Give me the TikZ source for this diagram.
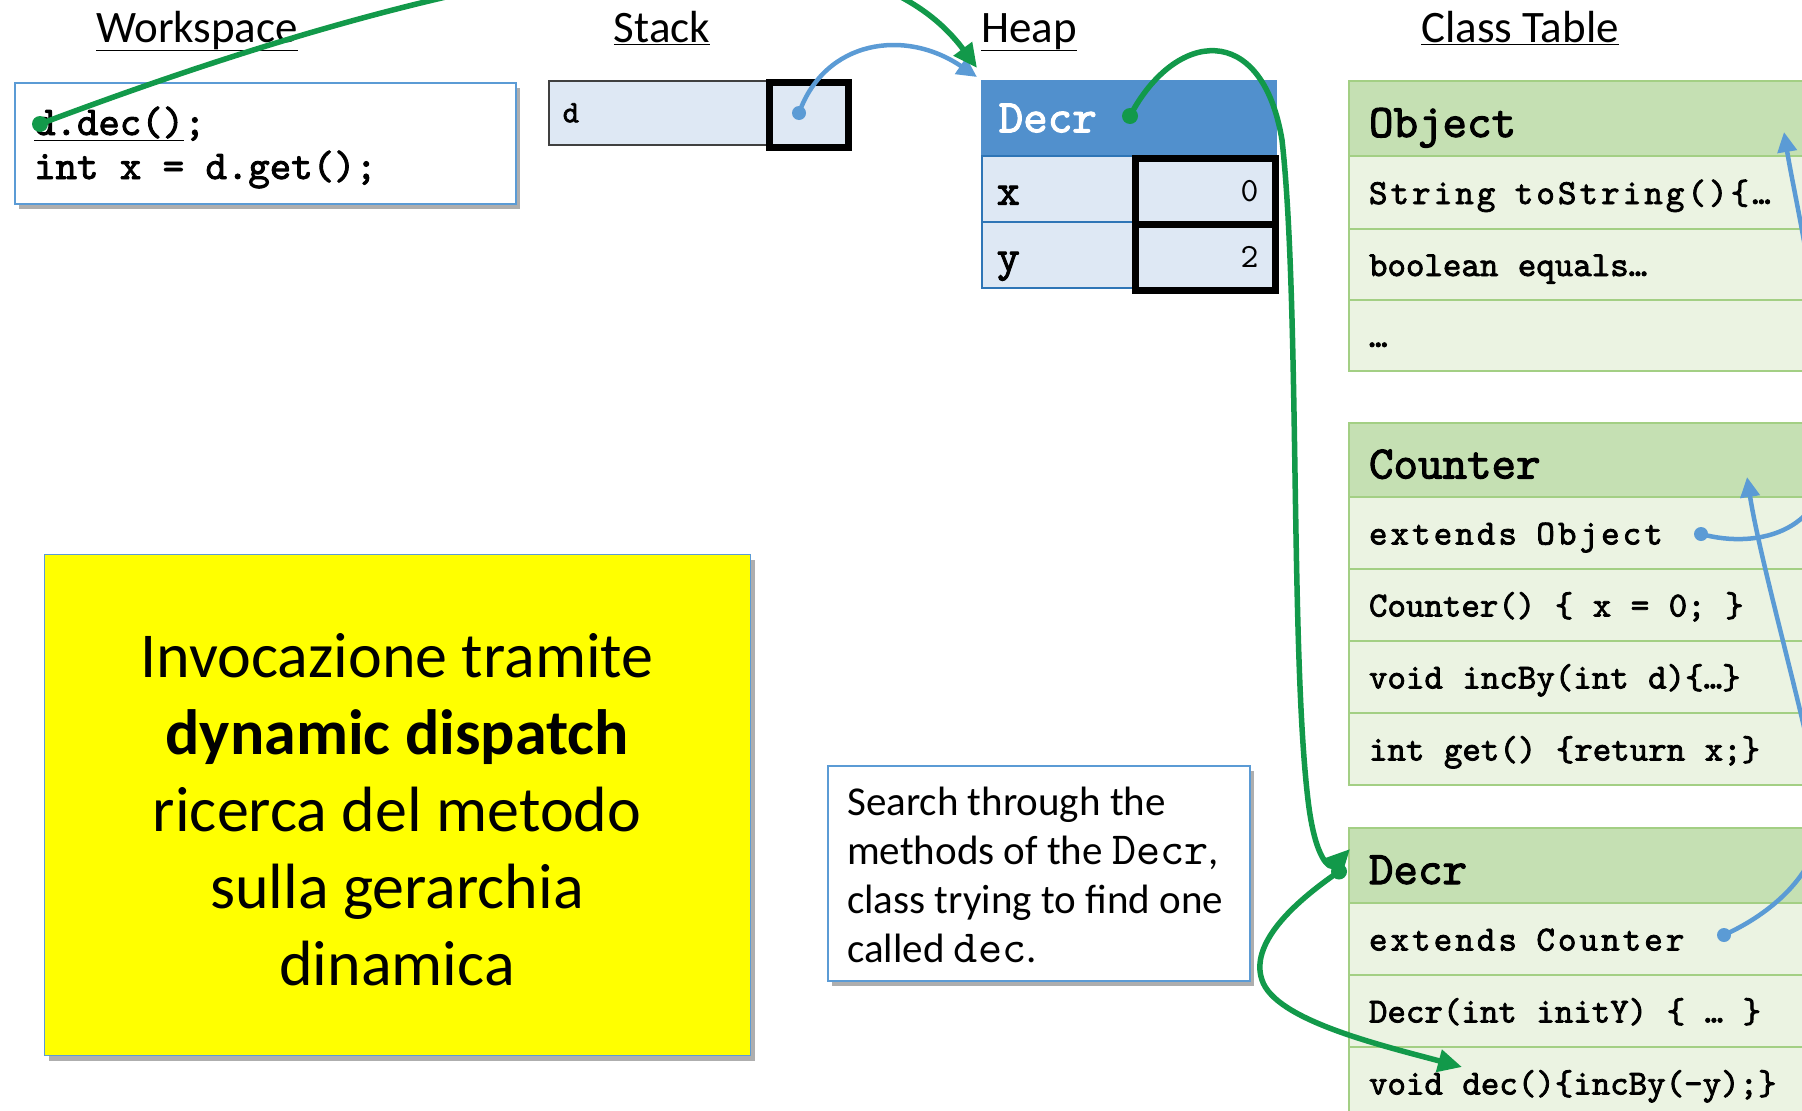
\documentclass[tikz,border=0pt]{standalone}
\usepackage{fontspec}
\setmainfont{Carlito}
\newfontfamily\codefont{lmmono10-regular.otf}[AutoFakeBold=2.2]
\usetikzlibrary{arrows.meta,shadows}

\definecolor{gArrow}{HTML}{12994A}
\definecolor{bArrow}{HTML}{5B9BD5}
\definecolor{boxBlue}{HTML}{5B9BD5}
\definecolor{heapHead}{HTML}{5190CD}
\definecolor{heapLine}{HTML}{2E75B6}
\definecolor{cellBlue}{HTML}{DEE8F4}
\definecolor{clsHead}{HTML}{C5E0B3}
\definecolor{clsRow}{HTML}{EBF3E2}
\definecolor{clsLine}{HTML}{A3CF84}
\definecolor{marker}{HTML}{FFFF00}

% wider tracking for some class-table rows
\newcommand\spaced[1]{{\addfontfeature{LetterSpace=8.8}#1}}
% full-width word spaces in the class table
\newcommand\clsspace{\spaceskip=19.5pt\relax}

\begin{document}
\begin{tikzpicture}[x=1pt,y=-1pt,
  title/.style={font=\fontsize{45}{54}\selectfont, inner sep=0pt, anchor=base},
  codeln/.style={font=\codefont\bfseries\fontsize{40.8}{46}\selectfont, inner sep=0pt, anchor=base west},
  framebox/.style={draw=boxBlue, line width=1.5pt, anchor=north west,
    drop shadow={shadow xshift=4pt, shadow yshift=-5pt, opacity=.45, fill=black!70}},
  clsbase/.style={draw=clsLine, line width=2pt, anchor=north west, text width=480pt,
    inner xsep=20pt, inner ysep=0pt, align=left},
  clshead/.style={clsbase, fill=clsHead, minimum height=75pt, text height=46pt, text depth=9pt,
    font=\codefont\bfseries\fontsize{46.7}{52}\selectfont},
  clsrow/.style={clsbase, fill=clsRow, minimum height=72pt, text height=31pt, text depth=8pt,
    font=\codefont\bfseries\fontsize{35.2}{40}\selectfont, execute at begin node=\clsspace},
  fieldcell/.style={anchor=north west, fill=cellBlue, draw=heapLine, line width=1.5pt,
    text width=121pt, inner xsep=15pt, inner ysep=0pt, minimum height=66pt, align=left,
    font=\codefont\bfseries\fontsize{44}{50}\selectfont, text height=40pt, text depth=8pt},
  valcell/.style={anchor=north west, fill=cellBlue, draw=black, line width=7pt,
    text width=106pt, inner xsep=17pt, inner ysep=0pt, minimum height=66pt, align=right,
    font=\codefont\fontsize{34}{40}\selectfont, text height=27pt, text depth=7pt},
  garrow/.style={draw=gArrow, line width=5.5pt, -{Triangle[length=24pt,width=22pt]}},
  barrow/.style={draw=bArrow, line width=4.5pt, -{Triangle[length=20pt,width=19pt]}},
]
\useasboundingbox (0,0) rectangle (1802,1111);

% column titles
\node[title] (tws)   at (197,42)  {\underline{Workspace}};
\node[title] (tst)   at (662,42)  {\underline{Stack}};
\node[title] (thp)   at (1029,42) {\underline{Heap}};
\node[title] (tct)   at (1520,42) {\underline{Class Table}};

% workspace
\node[framebox, fill=white, minimum width=501pt, minimum height=121pt] (ws) at (14,82) {};
\node[codeln] (wsl1) at (34,135) {\underline{d.dec()};};
\node[codeln] (wsl2) at (34,179) {int x = d.get();};

% stack
\node[anchor=north west, fill=cellBlue, draw=black!75, line width=1.5pt,
  text width=190pt, inner xsep=14pt, inner ysep=0pt, minimum height=64pt, align=left,
  font=\codefont\bfseries\fontsize{31}{36}\selectfont, text height=27pt, text depth=8pt]
  (sd) at (548,80) {d};
\node[anchor=north west, fill=cellBlue, draw=black, line width=7pt,
  minimum width=79pt, minimum height=65pt, inner sep=0pt] (sp) at (766,79) {};

% heap object
\node[anchor=north west, fill=heapHead, draw=heapHead, line width=1.5pt,
  text width=260pt, inner xsep=17pt, inner ysep=0pt, minimum height=75pt, align=left,
  text=white, font=\codefont\bfseries\fontsize{46.7}{52}\selectfont,
  text height=40pt, text depth=12pt] (hhead) at (981,80) {Decr};
\node[fieldcell] (hx) at (981,155) {x};
\node[fieldcell] (hy) at (981,221) {y};
\node[valcell] (hxv) at (1132,155) {0};
\node[valcell] (hyv) at (1132,221) {2};

% class table: Object
\node[clshead] (ohead) at (1348,80) {Object};
\node[clsrow, minimum height=73pt] (or1) at (1348,155) {\spaced{String toString()\{…}};
\node[clsrow, minimum height=71pt] (or2) at (1348,228) {boolean equals…};
\node[clsrow, minimum height=71pt] (or3) at (1348,299) {…};

% class table: Counter
\node[clshead, minimum height=74pt] (chead) at (1348,422) {Counter};
\node[clsrow] (cr1) at (1348,496) {\spaced{extends Object}};
\node[clsrow] (cr2) at (1348,568) {Counter() \{ x = 0; \}};
\node[clsrow] (cr3) at (1348,640) {void incBy(int d)\{…\}};
\node[clsrow] (cr4) at (1348,712) {int get() \{return x;\}};

% class table: Decr
\node[clshead] (dhead) at (1348,827) {Decr};
\node[clsrow] (dr1) at (1348,902) {\spaced{extends Counter}};
\node[clsrow] (dr2) at (1348,974) {Decr(int initY) \{ … \}};
\node[clsrow] (dr3) at (1348,1046) {void dec()\{incBy(-y);\}};

% explanation boxes
\node[framebox, fill=marker, line width=1.2pt, minimum width=706pt, minimum height=501pt] (yb) at (44,554) {};
\node[align=center, font=\fontsize{64}{77}\selectfont, inner sep=0pt] (ybtext) at (397,810)
  {Invocazione tramite\\ \textbf{dynamic dispatch}\\ ricerca del metodo\\ sulla gerarchia\\ dinamica};

\node[framebox, fill=white, minimum width=422pt, minimum height=215pt] (sb) at (827,765) {};
\node[anchor=north west, align=left, inner sep=0pt, font=\fontsize{41}{49}\selectfont] (sbtext) at (847,787)
  {Search through the\\ methods of the {\codefont\fontsize{46}{49}\selectfont Decr},\\ class trying to find one\\ called {\codefont\fontsize{46}{49}\selectfont dec}.};

% connector end points
\coordinate (wsdot) at (40,124);
\coordinate (sdot)  at ([xshift=-10pt,yshift=2pt]sp.center);
\coordinate (hdot)  at (1130,116);
\coordinate (ddot)  at ([xshift=-9pt,yshift=-6pt]dhead.west);
\coordinate (cdot)  at (1701,534);
\coordinate (dxdot) at (1724,935);
\coordinate (g1tip) at ([xshift=-4pt,yshift=12pt]hhead.north west);
\coordinate (b1tip) at ([xshift=-4pt,yshift=3pt]hhead.north west);
\coordinate (g2tip) at ([xshift=2pt,yshift=-22pt]dhead.north west);
\coordinate (g3tip) at ([xshift=114pt,yshift=16pt]dr3.west);
\coordinate (b2tip) at ([xshift=436pt,yshift=-52pt]ohead.north west);
\coordinate (b3tip) at ([xshift=399pt,yshift=-55pt]chead.north west);

% references
\draw[barrow] (sdot) .. controls (825,40) and (905,28) .. (b1tip);
\draw[garrow] (wsdot) .. controls (545,-66) and (860,-90) .. (g1tip);
\draw[garrow] (hdot) .. controls (1175,30) and (1262,20) .. (1282,140)
  .. controls (1300,300) and (1290,650) .. (1308,800)
  .. controls (1315,860) and (1330,870) .. (g2tip);
\draw[garrow] (ddot) .. controls (1290,905) and (1250,945) .. (1262,980)
  .. controls (1275,1020) and (1380,1045) .. (g3tip);
\draw[barrow] (cdot) .. controls (1760,550) and (1830,530) .. (1828,450)
  .. controls (1826,330) and (1795,200) .. (b2tip);
\draw[barrow] (dxdot) .. controls (1790,905) and (1835,850) .. (1818,790)
  .. controls (1800,700) and (1760,560) .. (b3tip);

% start dots
\fill[gArrow] (wsdot) circle[radius=8pt];
\fill[gArrow] (hdot) circle[radius=8pt];
\fill[gArrow] (ddot) circle[radius=8pt];
\fill[bArrow] (sdot) circle[radius=7pt];
\fill[bArrow] (cdot) circle[radius=7pt];
\fill[bArrow] (dxdot) circle[radius=7pt];
\end{tikzpicture}
\end{document}
